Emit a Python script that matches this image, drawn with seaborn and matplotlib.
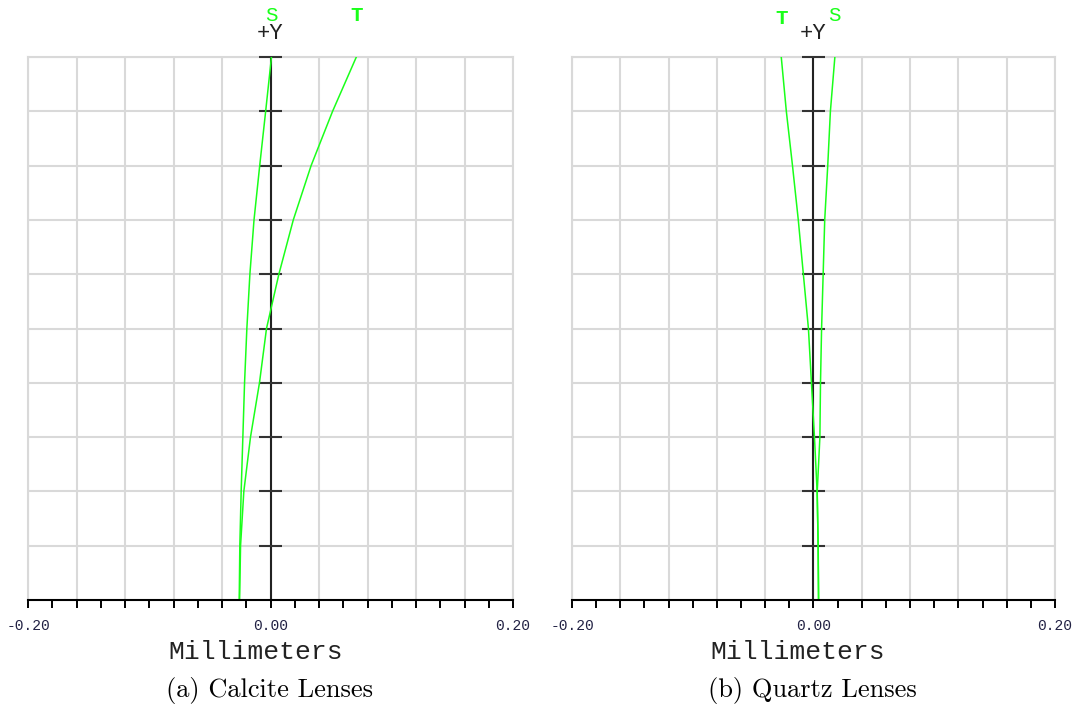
import pandas as pd
import matplotlib
matplotlib.use("Agg")
import matplotlib.pyplot as plt
import seaborn as sns

# relative field height (0 = axis, 1 = full field)
field = [0.0, 0.1, 0.2, 0.3, 0.4, 0.5, 0.6, 0.7, 0.8, 0.9, 1.0]

# focus shift in mm
calcite_s = [-0.0258, -0.0253, -0.0242, -0.0228, -0.0214, -0.0195, -0.0170, -0.0136, -0.0089, -0.0040, 0.0008]
calcite_t = [-0.0255, -0.0247, -0.0220, -0.0165, -0.0091, -0.0033, 0.0069, 0.0188, 0.0335, 0.0512, 0.0708]
quartz_s = [0.0042, 0.0038, 0.0031, 0.0053, 0.0058, 0.0067, 0.0080, 0.0093, 0.0118, 0.0140, 0.0177]
quartz_t = [0.0042, 0.0039, 0.0030, 0.0008, -0.0017, -0.0042, -0.0084, -0.0126, -0.0174, -0.0225, -0.0267]

captions = ["(a) Calcite Lenses", "(b) Quartz Lenses"]
xlim = (-0.20, 0.20)

rows = []
for panel, s, t in [("calcite", calcite_s, calcite_t), ("quartz", quartz_s, quartz_t)]:
    for f, vs, vt in zip(field, s, t):
        rows.append({"panel": panel, "curve": "S", "field": f, "focus": vs})
        rows.append({"panel": panel, "curve": "T", "field": f, "focus": vt})
df = pd.DataFrame(rows)

sns.set_style("white")
green = "#1aff1a"
grid_c = "#d9d9d9"
mono = "Liberation Mono"

fig = plt.figure(figsize=(10.73, 7.06), dpi=100)
ax_a = fig.add_axes([0.0261, 0.1501, 0.4520, 0.7692])
ax_b = fig.add_axes([0.5331, 0.1501, 0.4501, 0.7692])

label_x = [0.470, 0.468]

for i, (ax, panel) in enumerate([(ax_a, "calcite"), (ax_b, "quartz")]):
    sub = df[df["panel"] == panel]
    sns.lineplot(data=sub, x="focus", y="field", hue="curve", palette={"S": green, "T": green},
                 orient="y", estimator=None, legend=False, linewidth=1.1, ax=ax, zorder=4)

    ax.set_xlim(*xlim)
    ax.set_ylim(0, 1)

    # grid every 0.04 mm and 0.1 field, ticks every 0.02 mm
    major = [round(-0.2 + 0.04 * k, 2) for k in range(11)]
    minor = [round(-0.18 + 0.04 * k, 2) for k in range(10)]
    ax.set_xticks(major)
    ax.set_xticks(minor, minor=True)
    ax.set_xticklabels(["-0.20" if v == -0.2 else "0.00" if v == 0 else "0.20" if v == 0.2 else "" for v in major],
                       fontfamily=mono, fontsize=10.5, color="#222244")
    ax.set_yticks(field[1:])
    ax.set_yticklabels([])
    ax.grid(True, which="major", color=grid_c, linewidth=1.5, zorder=0)
    ax.tick_params(axis="x", which="both", bottom=True, direction="out", length=6, width=1.4,
                   color="black", pad=8)
    ax.tick_params(axis="y", left=False, length=0)
    ax.set_xlabel("")
    ax.set_ylabel("")

    for side in ["top", "left", "right"]:
        ax.spines[side].set_color(grid_c)
        ax.spines[side].set_linewidth(1.5)
    ax.spines["bottom"].set_color("black")
    ax.spines["bottom"].set_linewidth(1.5)
    ax.spines["bottom"].set_zorder(5)

    # central +Y axis with field ticks
    ax.axvline(0, color="#222222", linewidth=1.5, zorder=3)
    ax.hlines(field[1:], -0.0098, 0.0098, color="#333333", linewidth=1.5, zorder=3, clip_on=False)
    ax.text(0, 1.044, "+Y", transform=ax.get_xaxis_transform(), ha="center", va="center",
            fontfamily=mono, fontsize=16, color="#222222")

    s_vals = sub[sub["curve"] == "S"]["focus"].tolist()
    t_vals = sub[sub["curve"] == "T"]["focus"].tolist()
    s_y = 1.077 if i == 0 else 1.077
    t_y = 1.076 if i == 0 else 1.071
    ax.text(s_vals[-1], s_y, "S", transform=ax.get_xaxis_transform(), ha="center", va="center",
            fontfamily=mono, fontsize=15, color=green)
    ax.text(t_vals[-1], t_y, "T", transform=ax.get_xaxis_transform(), ha="center", va="center",
            fontfamily=mono, fontsize=15, color=green, fontweight="bold")

    ax.text(label_x[i], -0.096, "Millimeters", transform=ax.transAxes, ha="center", va="center",
            fontfamily=mono, fontsize=19, color="#222222")
    ax.text(0.497, -0.166, captions[i], transform=ax.transAxes, ha="center", va="center",
            fontfamily="cmr10", fontsize=19, color="black")

fig.savefig("out.png", dpi=100)
